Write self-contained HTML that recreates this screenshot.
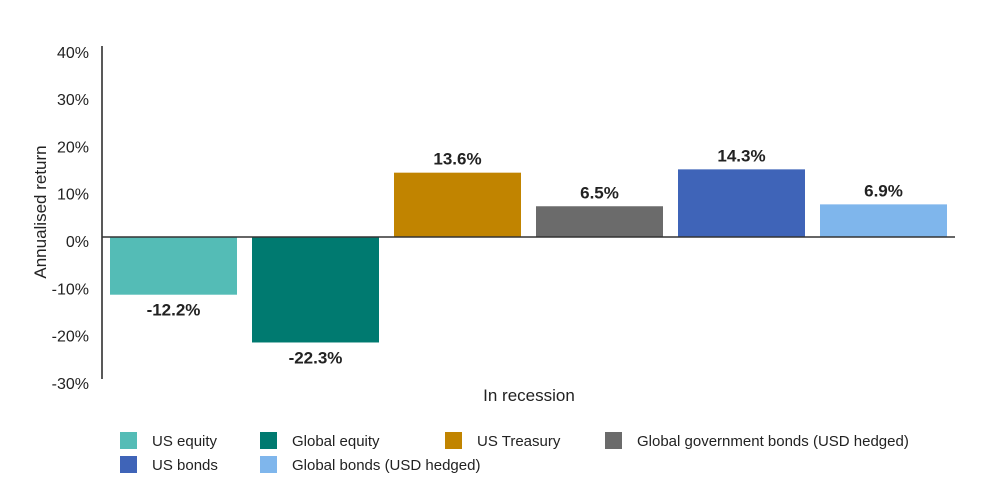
<!DOCTYPE html>
<html><head><meta charset="utf-8"><style>
body{margin:0;background:#fff;font-family:"Liberation Sans",sans-serif;}
svg text{font-family:"Liberation Sans",sans-serif;fill:#222;}
</style></head><body>
<svg width="1006" height="492" viewBox="0 0 1006 492">
<g id="yticks"></g><g id="bars"></g><g id="legend"></g>
<line x1="102" y1="46" x2="102" y2="379" stroke="#222" stroke-width="1.5"/>
<line x1="102" y1="237" x2="955" y2="237" stroke="#333" stroke-width="1.5"/>
<text x="0" y="0" transform="translate(46,212) rotate(-90)" text-anchor="middle" font-size="17">Annualised return</text>
<text x="529" y="401" text-anchor="middle" font-size="17">In recession</text>
</svg>
<script>
const categories=["US equity","Global equity","US Treasury","Global government bonds (USD hedged)","US bonds","Global bonds (USD hedged)"];
const values=[-12.2,-22.3,13.6,6.5,14.3,6.9];
const colors=["#54bcb6","#007a70","#c18400","#6b6b6b","#3f64b8","#7fb6ec"];
const ticks=[40,30,20,10,0,-10,-20,-30];
const NS="http://www.w3.org/2000/svg";
function y(v){return 237-v*4.73;}
function x(i){return 110+i*142;}
const bw=127;
function mk(tag,attrs,parent){const e=document.createElementNS(NS,tag);for(const k in attrs)e.setAttribute(k,attrs[k]);parent.appendChild(e);return e;}
const yt=document.getElementById('yticks');
ticks.forEach(t=>{const e=mk('text',{x:89,y:y(t)+10,'text-anchor':'end','font-size':16},yt);e.textContent=t+'%';

});
const bg=document.getElementById('bars');
values.forEach((v,i)=>{const top=Math.min(y(v),y(0)),h=Math.abs(y(v)-y(0));
const r=mk('rect',{x:x(i),y:top,width:bw,height:h,fill:colors[i]},bg);


const ty=v<0?y(v)+21:y(v)-8;
const t=mk('text',{x:x(i)+bw/2,y:ty,'text-anchor':'middle','font-size':17,'font-weight':'bold',fill:'#444'},bg);t.textContent=v.toFixed(1)+'%';

});
const lg=document.getElementById('legend');
const lx=[120,260,445,605,120,260],ly=[432,432,432,432,456,456];
categories.forEach((c,i)=>{const g=mk('g',{},lg);


mk('rect',{x:lx[i],y:ly[i],width:17,height:17,fill:colors[i]},g);
const t=mk('text',{x:lx[i]+32,y:ly[i]+14,'font-size':15},g);t.textContent=c;});
</script>
</body></html>
